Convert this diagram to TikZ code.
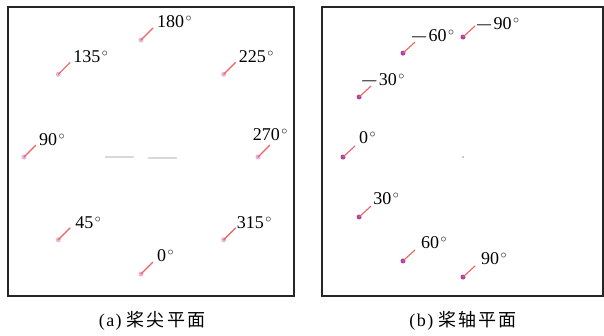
\documentclass[tikz,border=0pt]{standalone}
\usepackage{fontspec}
\setmainfont{Liberation Serif}
\newfontfamily\cjk[LetterSpace=12]{Noto Sans CJK SC}
\usetikzlibrary{positioning}
\definecolor{markred}{RGB}{240,95,95}
\definecolor{tippink}{RGB}{230,180,222}
\definecolor{axispurple}{RGB}{168,68,168}
\definecolor{centregray}{RGB}{214,218,218}
\newcommand{\degsign}{\kern1.5pt\raisebox{6pt}{\fontsize{13}{13}\selectfont$\circ$}}
\newcommand{\longminus}{\scalebox{0.78}[1]{—}\kern2.5pt}

\begin{document}
\begin{tikzpicture}[x=1pt,y=-1pt,
  panel/.style={draw=black!85,line width=1.4pt},
  tipdot/.style={circle,fill=tippink,inner sep=0pt,minimum size=5pt},
  axisdot/.style={circle,fill=axispurple,inner sep=0pt,minimum size=5pt},
  marker/.style={markred,line width=1.1pt},
  anglelabel/.style={anchor=south west,inner sep=1pt,font=\fontsize{18}{18}\selectfont},
  caption/.style={inner sep=0pt,font=\fontsize{18}{18}\selectfont}]
  \useasboundingbox (0,0) rectangle (604,335);

  % (a) tip plane
  \draw[panel] (8,7) rectangle (294,296);
  \coordinate (tipc) at (141,157);
  \draw[centregray,line width=1.8pt] (105,157) -- (134,157) (148,158) -- (177,158);
  \foreach \ang/\dx/\dy in {0/3/-1,45/4/-2,90/2/-2,135/2/-2,180/3/-1,225/2/-2,315/0/-2}{
    \path (tipc) ++(\ang+90:117) node[tipdot] (tip\ang) {};
    \coordinate (tipend\ang) at ([shift={(12,-12)}]tip\ang.center);
    \draw[marker] (tip\ang.center) -- (tipend\ang);
    \node[anglelabel,xshift=\dx pt,yshift=\dy pt] (tiplabel\ang) at (tipend\ang) {\ang\degsign};
  }
  \path (tipc) ++(0:117) node[tipdot] (tip270) {};
  \coordinate (tipend270) at ([shift={(12,-12)}]tip270.center);
  \draw[marker] (tip270.center) -- (tipend270);
  \node[anglelabel,anchor=south,yshift=3pt] (tiplabel270) at (tipend270) {270\degsign};

  % (b) axis plane
  \draw[panel] (322,7) rectangle (603,296);
  \coordinate (axc) at (463,157);
  \fill[centregray!80!black] (axc) circle (1pt);
  \foreach \ang/\txt/\dx/\dy [count=\i] in {-90/\longminus 90/1/-5,-60/\longminus 60/-4/-1,
      -30/\longminus 30/-10/-1,0/0/3/1,30/30/1/0,60/60/5/0,90/90/5/0}{
    \path (axc) ++(180-\ang:120) node[axisdot] (axis\i) {};
    \coordinate (axisend\i) at ([shift={(12,-11)}]axis\i.center);
    \draw[marker] (axis\i.center) -- (axisend\i);
    \node[anglelabel,xshift=\dx pt,yshift=\dy pt] (axislabel\i) at (axisend\i) {\txt\degsign};
  }

  % captions
  \node[caption] (capa) at (152,321) {(\kern1.5pt a\kern1.5pt)\kern5pt{\cjk 桨尖平面}};
  \node[caption] (capb) at (463,321) {(\kern1.5pt b\kern1.5pt)\kern5pt{\cjk 桨轴平面}};
\end{tikzpicture}
\end{document}
